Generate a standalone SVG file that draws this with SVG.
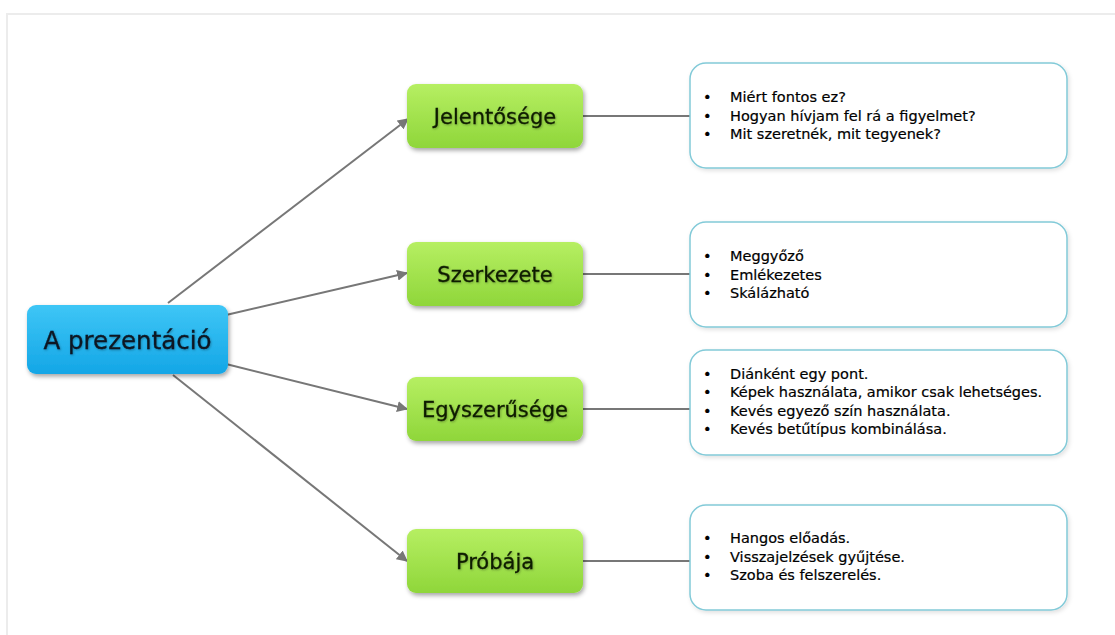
<svg xmlns="http://www.w3.org/2000/svg" width="1115" height="635" viewBox="0 0 1115 635">
<style>
.frame{stroke:#ececec;stroke-width:2;fill:none}
.conn{stroke:#777;stroke-width:2;fill:none}
.green{fill:url(#gGreen);filter:url(#shadow)}
.blue{fill:url(#gBlue);filter:url(#shadow)}
.detail{fill:#fff;stroke:#82cad8;stroke-width:1.5;filter:url(#soft)}
.lbl{font-family:"DejaVu Sans",Verdana,sans-serif;font-size:21px;fill:#101c06;stroke:#101c06;stroke-width:0.3;text-anchor:middle;filter:url(#tshadow)}
.main{font-family:"DejaVu Sans",Verdana,sans-serif;font-size:24.5px;fill:#0a1624;stroke:#0a1624;stroke-width:0.3;text-anchor:middle;filter:url(#tshadow)}
.item{font-family:"DejaVu Sans",Verdana,sans-serif;font-size:14.5px;fill:#000;stroke:#000;stroke-width:0.2}
</style>
<defs>
<linearGradient id="gGreen" x1="0" y1="0" x2="0" y2="1">
<stop offset="0" stop-color="#b6ef62"/>
<stop offset="1" stop-color="#8fd63a"/>
</linearGradient>
<linearGradient id="gBlue" x1="0" y1="0" x2="0" y2="1">
<stop offset="0" stop-color="#3ec6f6"/>
<stop offset="1" stop-color="#14a6e6"/>
</linearGradient>
<filter id="shadow" x="-10%" y="-20%" width="125%" height="150%">
<feDropShadow dx="1.5" dy="2.5" stdDeviation="2" flood-color="#000" flood-opacity="0.35"/>
</filter>
<filter id="soft" x="-5%" y="-10%" width="115%" height="130%">
<feDropShadow dx="1.5" dy="2" stdDeviation="2" flood-color="#000" flood-opacity="0.12"/>
</filter>
<filter id="tshadow" x="-10%" y="-30%" width="120%" height="160%">
<feDropShadow dx="0.8" dy="1" stdDeviation="1" flood-color="#000" flood-opacity="0.3"/>
</filter>
<marker id="arr" viewBox="0 0 10 10" refX="9" refY="5" markerWidth="5.5" markerHeight="5.5" orient="auto" markerUnits="strokeWidth">
<path d="M0,0 L10,5 L0,10 z" fill="#777"/>
</marker>
</defs>
<rect width="1115" height="635" fill="#fff"/>
<path class="frame" d="M7,635 L7,14 L1115,14"/>

<g id="connectors">
<line class="conn" x1="168" y1="303" x2="408" y2="119" marker-end="url(#arr)"/>
<line class="conn" x1="226" y1="315" x2="407" y2="273" marker-end="url(#arr)"/>
<line class="conn" x1="226" y1="364" x2="407" y2="409" marker-end="url(#arr)"/>
<line class="conn" x1="173" y1="375" x2="407" y2="561" marker-end="url(#arr)"/>
<line class="conn" x1="583" y1="116" x2="690" y2="116"/>
<line class="conn" x1="583" y1="274" x2="690" y2="274"/>
<line class="conn" x1="583" y1="409" x2="690" y2="409"/>
<line class="conn" x1="583" y1="561" x2="690" y2="561"/>
</g>

<g id="node-main">
<rect class="blue" x="27" y="305" width="201" height="69" rx="9"/>
<text class="main" x="127.5" y="349">A prezentáció</text>
</g>

<g id="node-jelentosege">
<rect class="green" x="407" y="84" width="176" height="64" rx="9"/>
<text class="lbl" x="495" y="124">Jelentősége</text>
</g>
<g id="node-szerkezete">
<rect class="green" x="407" y="242" width="176" height="64" rx="9"/>
<text class="lbl" x="495" y="282">Szerkezete</text>
</g>
<g id="node-egyszeruseg">
<rect class="green" x="407" y="377" width="176" height="64" rx="9"/>
<text class="lbl" x="495" y="417">Egyszerűsége</text>
</g>
<g id="node-probaja">
<rect class="green" x="407" y="529" width="176" height="64" rx="9"/>
<text class="lbl" x="495" y="569">Próbája</text>
</g>

<g id="detail-jelentosege">
<rect class="detail" x="690" y="63" width="377" height="105" rx="16"/>
<text class="item"><tspan x="703" y="102">•</tspan><tspan x="730" y="102">Miért fontos ez?</tspan><tspan x="703" y="120.5">•</tspan><tspan x="730" y="120.5">Hogyan hívjam fel rá a figyelmet?</tspan><tspan x="703" y="139">•</tspan><tspan x="730" y="139">Mit szeretnék, mit tegyenek?</tspan></text>
</g>
<g id="detail-szerkezete">
<rect class="detail" x="690" y="222" width="377" height="105" rx="16"/>
<text class="item"><tspan x="703" y="261">•</tspan><tspan x="730" y="261">Meggyőző</tspan><tspan x="703" y="279.5">•</tspan><tspan x="730" y="279.5">Emlékezetes</tspan><tspan x="703" y="298">•</tspan><tspan x="730" y="298">Skálázható</tspan></text>
</g>
<g id="detail-egyszeruseg">
<rect class="detail" x="690" y="350" width="377" height="105" rx="16"/>
<text class="item"><tspan x="703" y="378.5">•</tspan><tspan x="730" y="378.5">Diánként egy pont.</tspan><tspan x="703" y="397">•</tspan><tspan x="730" y="397">Képek használata, amikor csak lehetséges.</tspan><tspan x="703" y="415.5">•</tspan><tspan x="730" y="415.5">Kevés egyező szín használata.</tspan><tspan x="703" y="434">•</tspan><tspan x="730" y="434">Kevés betűtípus kombinálása.</tspan></text>
</g>
<g id="detail-probaja">
<rect class="detail" x="690" y="505" width="377" height="105" rx="16"/>
<text class="item"><tspan x="703" y="543">•</tspan><tspan x="730" y="543">Hangos előadás.</tspan><tspan x="703" y="561.5">•</tspan><tspan x="730" y="561.5">Visszajelzések gyűjtése.</tspan><tspan x="703" y="580">•</tspan><tspan x="730" y="580">Szoba és felszerelés.</tspan></text>
</g>
</svg>
